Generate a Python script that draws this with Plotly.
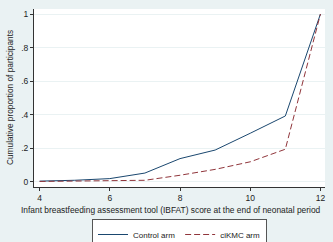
import plotly.graph_objects as go

scores = [4, 5, 6, 7, 8, 9, 10, 11, 12]
control_arm = [0.005, 0.01, 0.02, 0.053, 0.139, 0.19, 0.29, 0.393, 1.0]
cikmc_arm = [0.003, 0.004, 0.005, 0.01, 0.04, 0.075, 0.12, 0.195, 1.0]
y_ticks = [0, 0.2, 0.4, 0.6, 0.8, 1]
y_tick_labels = ["0", ".2", ".4", ".6", ".8", "1"]
x_ticks = [4, 6, 8, 10, 12]
x_title = "Infant breastfeeding assessment tool (IBFAT) score at the end of neonatal period"
y_title = "Cumulative proportion of participants"

bg = "#EAF2F3"
fnt = dict(family="Arial, Liberation Sans, sans-serif", size=8.5, color="#222222")

fig = go.Figure()
fig.add_trace(go.Scatter(x=scores, y=control_arm, mode="lines", name="Control arm",
                         line=dict(color="#1a476f", width=1)))
fig.add_trace(go.Scatter(x=scores, y=cikmc_arm, mode="lines", name="ciKMC arm",
                         line=dict(color="#90353b", width=1, dash="6px,3px")))

fig.update_layout(
    width=333, height=242,
    margin=dict(l=34, r=8, t=9, b=55, autoexpand=False),
    paper_bgcolor=bg, plot_bgcolor="white",
    font=fnt,
    showlegend=True,
    legend=dict(orientation="h", x=0.5, xanchor="center", yref="container",
                y=0.095, yanchor="top",
                bgcolor="white", bordercolor="#555555", borderwidth=1,
                font=dict(size=8), itemwidth=30),
    annotations=[
        dict(text=x_title, xref="paper", yref="paper", x=0.47, y=0, yshift=-16,
             xanchor="center", yanchor="top", showarrow=False, font=dict(size=8.4)),
        dict(text=y_title, xref="paper", yref="paper", x=0, y=0.5, xshift=-17,
             xanchor="right", yanchor="middle", textangle=-90, showarrow=False,
             font=dict(size=8.3)),
    ],
)
fig.update_xaxes(range=[3.84, 12.13], tickvals=x_ticks, ticks="outside", ticklen=3,
                 tickcolor="#333333", showline=True, linecolor="#333333", linewidth=1,
                 showgrid=False, zeroline=False, automargin=False,
                 tickfont=dict(size=8.5))
fig.update_yaxes(range=[-0.03, 1.03], tickvals=y_ticks, ticktext=y_tick_labels,
                 ticks="outside", ticklen=3, tickcolor="#333333",
                 showline=True, linecolor="#333333", linewidth=1,
                 showgrid=True, gridcolor=bg, gridwidth=1, zeroline=False,
                 automargin=False, tickfont=dict(size=8.5))

fig.write_html("out.html", config={"displayModeBar": False},
               post_script="document.body.style.margin='0';document.body.style.overflow='hidden';")
